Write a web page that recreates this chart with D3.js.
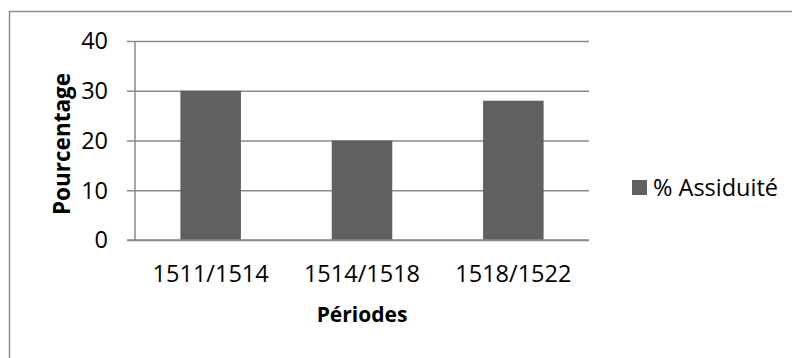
<!DOCTYPE html>
<html>
<head>
<meta charset="utf-8">
<script src="https://cdn.jsdelivr.net/npm/d3@7"></script>
<style>
  html, body { margin: 0; padding: 0; background: #fff; }
  svg { display: block; }
</style>
</head>
<body>
<svg id="chart" width="792" height="358"></svg>
<script>
// Attendance percentage per period
const categories = ["1511/1514", "1514/1518", "1518/1522"];
const values = [30, 20, 28];
const yTicks = [0, 10, 20, 30, 40];
const seriesName = "% Assiduité";
const xTitle = "Périodes";
const yTitle = "Pourcentage";

const svg = d3.select("#chart");
const font = "'Open Sans', 'Noto Sans', sans-serif";
const barColor = "#606060";
const gridColor = "#8a8a8a";
const labelSize = 23.5;

// Outer frame (extends past the bottom/right edges)
svg.append("rect")
  .attr("x", 9.5).attr("y", 11.5)
  .attr("width", 900).attr("height", 500)
  .attr("fill", "none").attr("stroke", "#8e8e8e").attr("stroke-width", 1.5);

const plot = { left: 135, right: 589, top: 41, bottom: 240 };

const x = d3.scaleBand()
  .domain(categories)
  .range([plot.left, plot.right])
  .paddingInner(0.6)
  .paddingOuter(0.3);

const y = d3.scaleLinear()
  .domain([0, 40])
  .range([plot.bottom, plot.top]);

// Horizontal gridlines with short ticks to the left of the axis
const yAxis = d3.axisLeft(y)
  .tickValues(yTicks)
  .tickSize(-(plot.right - plot.left))
  .tickFormat("");
const gy = svg.append("g")
  .attr("transform", `translate(${plot.left},0)`)
  .call(yAxis);
gy.select(".domain").remove();
gy.selectAll(".tick line")
  .attr("x1", -8)
  .attr("stroke", gridColor).attr("stroke-width", 1.5);

// Tick labels
svg.append("g").selectAll("text")
  .data(yTicks)
  .join("text")
  .attr("x", 108)
  .attr("y", d => y(d))
  .attr("dy", "0.36em")
  .attr("text-anchor", "end")
  .attr("font-family", font)
  .attr("font-size", labelSize)
  .attr("fill", "#000")
  .text(d => d);

// Bars
svg.append("g").selectAll("rect")
  .data(values)
  .join("rect")
  .attr("x", (d, i) => x(categories[i]))
  .attr("y", d => y(d))
  .attr("width", x.bandwidth())
  .attr("height", d => y(0) - y(d))
  .attr("fill", barColor);

// Vertical axis line
svg.append("line")
  .attr("x1", plot.left).attr("x2", plot.left)
  .attr("y1", plot.top).attr("y2", plot.bottom)
  .attr("stroke", gridColor).attr("stroke-width", 1.5);

// Baseline drawn over the bars
svg.append("line")
  .attr("x1", plot.left - 8).attr("x2", plot.right)
  .attr("y1", y(0)).attr("y2", y(0))
  .attr("stroke", gridColor).attr("stroke-width", 1.5);

// Category labels
svg.append("g").selectAll("text")
  .data(categories)
  .join("text")
  .attr("x", d => x(d) + x.bandwidth() / 2)
  .attr("y", 282)
  .attr("text-anchor", "middle")
  .attr("font-family", font)
  .attr("font-size", labelSize)
  .attr("fill", "#000")
  .text(d => d);

// Axis titles
svg.append("text")
  .attr("x", (plot.left + plot.right) / 2)
  .attr("y", 322)
  .attr("text-anchor", "middle")
  .attr("font-family", font)
  .attr("font-weight", "bold")
  .attr("font-size", 21)
  .text(xTitle);

svg.append("text")
  .attr("transform", "translate(70,144) rotate(-90)")
  .attr("text-anchor", "middle")
  .attr("font-family", font)
  .attr("font-weight", "bold")
  .attr("font-size", 22.5)
  .text(yTitle);

// Legend
const legend = svg.append("g");
legend.append("rect")
  .attr("x", 632).attr("y", 180)
  .attr("width", 15).attr("height", 15)
  .attr("fill", barColor);
legend.append("text")
  .attr("x", 653).attr("y", 187.5)
  .attr("dy", "0.36em")
  .attr("font-family", font)
  .attr("font-size", labelSize)
  .attr("fill", "#000")
  .text(seriesName);
</script>
</body>
</html>
